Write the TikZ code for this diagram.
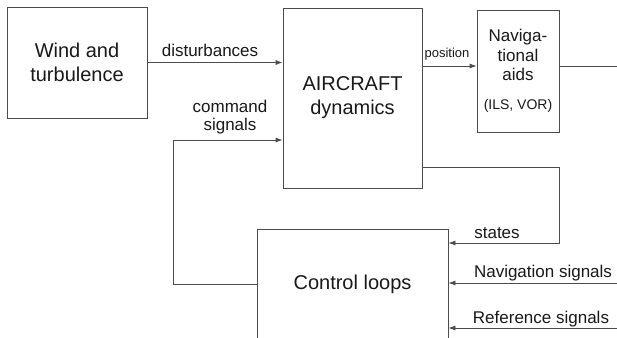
\documentclass[tikz,border=0pt]{standalone}
\usepackage{fontspec}
\setmainfont{Liberation Sans}
\usetikzlibrary{arrows.meta}
\begin{document}
\begin{tikzpicture}[x=1pt,y=-1pt,
  line/.style={draw=black!70,line width=0.8pt},
  arr/.style={line,-{Latex[length=7pt,width=5pt]}},
  box/.style={line,fill=none,inner sep=0pt,align=center,text=black!90},
  big/.style={font=\fontsize{20}{24}\selectfont},
  lab/.style={inner sep=0pt,align=center,text=black!90,font=\fontsize{17}{18}\selectfont}]
\clip (0,0) rectangle (617,337);
\fill[white] (0,0) rectangle (617,337);
% boxes
\node[box,big,minimum width=140,minimum height=111] (wind) at (77,62.5) {Wind and\\turbulence};
\node[box,big,minimum width=139,minimum height=180] (air) at (352.5,98) {AIRCRAFT\\dynamics};
\node[box,minimum width=82,minimum height=122,font=\fontsize{17}{19.5}\selectfont] (nav) at (518,71)
  {Naviga-\\tional\\aids\\[9pt]\fontsize{14}{16}\selectfont (ILS, VOR)};
\node[box,big,minimum width=191,minimum height=111] (ctrl) at (352.5,284.5) {\raisebox{4pt}{Control loops}};
% coordinates
\coordinate (cmd) at (173,140);
\coordinate (posy) at (0,66);
\coordinate (navout) at (617,66);
\coordinate (st1) at (559,167);
\coordinate (st2) at (559,243);
\coordinate (ns) at (617,283);
\coordinate (rs) at (617,328);
% connectors
\draw[arr] (wind.east) -- (wind.east -| air.west);
\draw[arr] (ctrl.west) -| (cmd) -- (cmd -| air.west);
\draw[arr] (posy -| air.east) -- (posy -| nav.west);
\draw[line] (posy -| nav.east) -- (navout);
\draw[arr] (st1 -| air.east) -- (st1) -- (st2) -- (st2 -| ctrl.east);
\draw[arr] (ns) -- (ns -| ctrl.east);
\draw[arr] (rs) -- (rs -| ctrl.east);
% labels
\node[lab] (ldist) at (210,50) {disturbances};
\node[lab] (lcmd) at (230,117) {command\\signals};
\node[lab,font=\fontsize{13}{14}\selectfont] (lpos) at (447,54) {position};
\node[lab] (lst) at (497,233) {states};
\node[lab] (lns) at (543,273) {Navigation signals};
\node[lab] (lrs) at (541,319) {Reference signals};
\end{tikzpicture}
\end{document}
